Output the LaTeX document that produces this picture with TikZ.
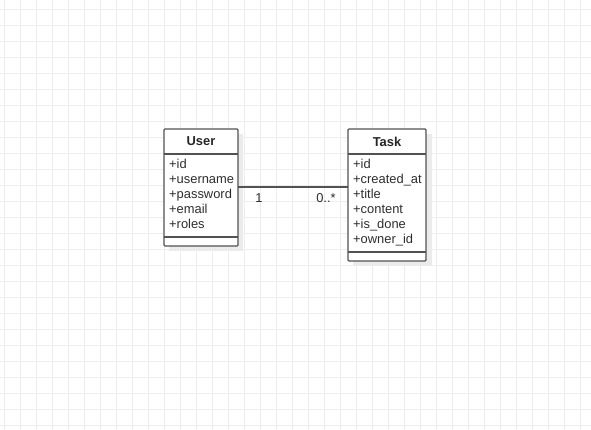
\documentclass[tikz,border=0pt]{standalone}
\usepackage{fontspec}
\setmainfont{Liberation Sans}
\begin{document}
\begin{tikzpicture}[x=1pt,y=-1pt,
  gridline/.style={draw=black!7,line width=0.8pt},
  classbox/.style={draw=black!68,line width=1.2pt,rounded corners=1pt,fill=white},
  shadowbox/.style={fill=black!8,draw=none},
  divline/.style={draw=black!68,line width=1.2pt},
  attr/.style={anchor=base west,inner sep=0pt,font=\fontsize{12.9}{14}\selectfont,text=black!82},
  title/.style={anchor=center,inner sep=0pt,font=\fontsize{12.9}{14}\selectfont\bfseries,text=black!85},
  mult/.style={anchor=base,inner sep=0pt,font=\fontsize{12.9}{14}\selectfont,text=black!82},
  assoc/.style={draw=black!68,line width=1.2pt}]
\useasboundingbox (0,0) rectangle (591,430);
\fill[white] (0,0) rectangle (591,430);
\foreach \k in {0,...,36} {\draw[gridline] ({4+16*\k},0) -- ({4+16*\k},430);}
\foreach \k in {0,...,26} {\draw[gridline] (0,{9+16*\k}) -- (591,{9+16*\k});}
% shadows
\fill[shadowbox] (169,134) rectangle (243,251);
\fill[shadowbox] (353,134) rectangle (432,266);
% User class
\draw[classbox] (164,129) rectangle (238,246);
\coordinate (uR) at (238,187);
\draw[divline] (164,154) -- (238,154);
\draw[divline] (164,237) -- (238,237);
\node[title] (utitle) at (201,141.5) {User};
\node[attr] (u1) at (169,168.5) {+id};
\node[attr] (u2) at (169,183.5) {+username};
\node[attr] (u3) at (169,198.5) {+password};
\node[attr] (u4) at (169,213.5) {+email};
\node[attr] (u5) at (169,228.5) {+roles};
% Task class
\draw[classbox] (348,129) rectangle (426,261);
\coordinate (tL) at (348,187);
\draw[divline] (348,154) -- (426,154);
\draw[divline] (348,252) -- (426,252);
\node[title] (ttitle) at (387,141.5) {Task};
\node[attr] (t1) at (353,168.5) {+id};
\node[attr] (t2) at (353,183.5) {+created\_at};
\node[attr] (t3) at (353,198.5) {+title};
\node[attr] (t4) at (353,213.5) {+content};
\node[attr] (t5) at (353,228.5) {+is\_done};
\node[attr] (t6) at (353,243.5) {+owner\_id};
% association
\draw[assoc] (uR) -- (tL);
\node[mult] (m1) at (259,203) {1};
\node[mult] (m2) at (326,203) {0..*};
\end{tikzpicture}
\end{document}
